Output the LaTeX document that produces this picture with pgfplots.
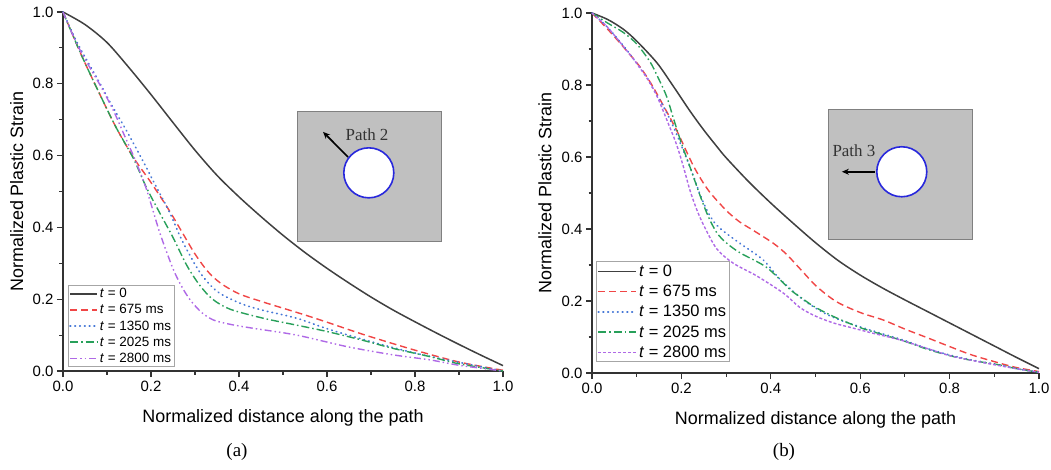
\documentclass[border=0pt]{standalone}
\usepackage{pgfplots}
\pgfplotsset{compat=1.18}
\usetikzlibrary{arrows.meta}
\usepackage{fontspec}
\setmainfont{Liberation Sans}
\newfontfamily\seriffont{Liberation Serif}
\definecolor{cblack}{RGB}{64,64,64}
\definecolor{cred}{RGB}{240,70,70}
\definecolor{cblue}{RGB}{70,120,215}
\definecolor{cgreen}{RGB}{40,160,90}
\definecolor{cpurple}{RGB}{175,105,230}
\definecolor{insetgray}{RGB}{192,192,192}
\definecolor{cblueC}{RGB}{40,40,220}
\pgfplotsset{
  panel/.style={
    scale only axis, xmin=0, xmax=1, ymin=0, ymax=1, clip=false,
    axis lines=left, axis line style={-, line width=1.3bp, black!80},
    xtick={0,0.2,0.4,0.6,0.8,1}, ytick={0,0.2,0.4,0.6,0.8,1},
    minor tick num=1, tick align=outside,
    major tick length=6bp, minor tick length=3.5bp,
    every tick/.style={line width=1.1bp, black!80},
    tick label style={font=\fontsize{15}{17}\selectfont},
    xticklabel style={yshift=-1bp},
    /pgf/number format/.cd, fixed, fixed zerofill, precision=1, assume math mode=true,
    /pgfplots/.cd,
    xlabel style={font=\fontsize{18}{20}\selectfont, at={(axis description cs:0.5,-0.131)}, anchor=center},
    ylabel style={font=\fontsize{18}{20}\selectfont, at={(axis description cs:-0.105,0.5)}, anchor=center},
    xlabel={Normalized distance along the path},
    ylabel={Normalized Plastic Strain},
  },
  sA/.style={draw=cblack, line width=1.5bp, smooth, tension=0.5},
  sB/.style={draw=cred, line width=1.4bp, dash pattern=on 7bp off 4bp, smooth, tension=0.5},
  sC/.style={draw=cblue, line width=1.7bp, line cap=round, dash pattern=on 0.6bp off 4.2bp, smooth, tension=0.5},
  sD/.style={draw=cgreen, line width=1.4bp, dash pattern=on 8bp off 3bp on 1.5bp off 3bp, smooth, tension=0.5},
  sE/.style={draw=cpurple, line width=1.4bp, dash pattern=on 7bp off 3bp on 1.5bp off 3bp on 1.5bp off 3bp, smooth, tension=0.5},
  sEb/.style={draw=cpurple, line width=1.4bp, dash pattern=on 3bp off 2bp, smooth, tension=0.5},
}
\begin{document}
\begin{tikzpicture}
% ---------------- panel (a)
\begin{axis}[panel, at={(63bp,99bp)}, anchor=south west, width=440bp, height=359bp,
  legend style={at={(rel axis cs:0.011,0.011)}, anchor=south west, draw=gray!70, line width=0.8bp,
    font=\fontsize{13.5}{14}\selectfont, inner sep=1bp, row sep=1.2bp, cells={anchor=west}},
  legend image code/.code={\draw[#1] (0bp,0bp) -- (27bp,0bp);}]
\addplot[sA] coordinates {(0,1) (0.05,0.965) (0.1,0.915) (0.15,0.845) (0.2,0.77) (0.25,0.692) (0.3,0.615) (0.35,0.545) (0.4,0.485) (0.45,0.43) (0.5,0.378) (0.55,0.33) (0.6,0.286) (0.65,0.245) (0.7,0.206) (0.75,0.17) (0.8,0.137) (0.85,0.105) (0.9,0.074) (0.95,0.044) (1.0,0.015)};
\addlegendentry{\textit{t} = 0}
\addplot[sB] coordinates {(0,1) (0.04,0.885) (0.08,0.78) (0.12,0.68) (0.16,0.595) (0.2,0.525) (0.24,0.45) (0.27,0.388) (0.3,0.326) (0.33,0.276) (0.36,0.243) (0.4,0.215) (0.45,0.194) (0.5,0.175) (0.55,0.156) (0.6,0.136) (0.65,0.115) (0.7,0.095) (0.8,0.058) (0.9,0.025) (1.0,0.002)};
\addlegendentry{\textit{t} = 675 ms}
\addplot[sC] coordinates {(0,1) (0.03,0.92) (0.054,0.866) (0.08,0.81) (0.11,0.742) (0.145,0.668) (0.183,0.582) (0.209,0.52) (0.243,0.44) (0.27,0.365) (0.311,0.275) (0.35,0.222) (0.4,0.19) (0.448,0.171) (0.531,0.147) (0.607,0.115) (0.72,0.075) (0.8,0.05) (0.872,0.031) (0.95,0.012) (1.0,0)};
\addlegendentry{\textit{t} = 1350 ms}
\addplot[sD] coordinates {(0,1) (0.04,0.885) (0.08,0.78) (0.12,0.68) (0.16,0.592) (0.19,0.51) (0.22,0.44) (0.25,0.372) (0.281,0.295) (0.31,0.24) (0.34,0.2) (0.38,0.172) (0.455,0.147) (0.53,0.128) (0.6,0.11) (0.68,0.086) (0.75,0.063) (0.834,0.04) (0.9,0.02) (1.0,0)};
\addlegendentry{\textit{t} = 2025 ms}
\addplot[sE] coordinates {(0,1) (0.03,0.915) (0.055,0.858) (0.084,0.797) (0.114,0.727) (0.14,0.655) (0.165,0.585) (0.19,0.505) (0.22,0.385) (0.25,0.285) (0.27,0.235) (0.289,0.198) (0.315,0.163) (0.342,0.142) (0.38,0.13) (0.432,0.119) (0.531,0.1) (0.645,0.068) (0.75,0.045) (0.834,0.031) (0.9,0.016) (1.0,0)};
\addlegendentry{\textit{t} = 2800 ms}
\draw[draw=gray, line width=0.8bp, fill=insetgray] (axis cs:0.532,0.362) rectangle (axis cs:0.859,0.724);
\draw[-{Stealth[length=7bp,width=6bp]}, line width=1.6bp, black] (axis cs:0.648,0.596) -- (axis cs:0.591,0.666);
\draw[cblueC, line width=1.6bp, fill=white] (axis cs:0.695,0.552) circle[radius=25bp];
\node[font=\seriffont\fontsize{17}{18}\selectfont, text=black!80] at (axis cs:0.691,0.657) {Path 2};
\end{axis}
% ---------------- panel (b)
\begin{axis}[panel, at={(592bp,97bp)}, anchor=south west, width=447bp, height=360bp,
  legend style={at={(rel axis cs:0.009,0.03)}, anchor=south west, draw=gray!70, line width=0.8bp,
    font=\fontsize{16.5}{17}\selectfont, inner sep=1bp, row sep=3.3bp, cells={anchor=west}},
  legend image code/.code={\draw[#1] (0bp,0bp) -- (38bp,0bp);}]
\addplot[sA] coordinates {(0,1) (0.035,0.982) (0.07,0.955) (0.1,0.922) (0.145,0.862) (0.18,0.8) (0.219,0.728) (0.25,0.675) (0.28,0.628) (0.3,0.598) (0.35,0.532) (0.4,0.472) (0.45,0.416) (0.5,0.362) (0.55,0.313) (0.6,0.272) (0.65,0.236) (0.7,0.203) (0.75,0.171) (0.8,0.139) (0.85,0.107) (0.9,0.075) (0.95,0.043) (1.0,0.012)};
\addlegendentry{\textit{t} = 0}
\addplot[sB] coordinates {(0,1) (0.035,0.955) (0.07,0.906) (0.107,0.851) (0.134,0.8) (0.16,0.742) (0.189,0.675) (0.227,0.575) (0.26,0.508) (0.3,0.452) (0.33,0.42) (0.361,0.396) (0.406,0.36) (0.435,0.33) (0.465,0.29) (0.503,0.24) (0.547,0.198) (0.6,0.168) (0.652,0.147) (0.7,0.122) (0.75,0.098) (0.801,0.073) (0.85,0.05) (0.913,0.027) (0.95,0.015) (1.0,0.004)};
\addlegendentry{\textit{t} = 675 ms}
\addplot[sC] coordinates {(0,1) (0.035,0.96) (0.078,0.897) (0.1,0.86) (0.122,0.823) (0.14,0.782) (0.16,0.74) (0.182,0.684) (0.204,0.619) (0.223,0.56) (0.242,0.495) (0.258,0.45) (0.275,0.416) (0.294,0.394) (0.331,0.36) (0.383,0.314) (0.421,0.26) (0.473,0.203) (0.517,0.168) (0.555,0.147) (0.6,0.128) (0.652,0.108) (0.7,0.09) (0.75,0.068) (0.8,0.05) (0.85,0.036) (0.913,0.022) (0.95,0.012) (1.0,0.002)};
\addlegendentry{\textit{t} = 1350 ms}
\addplot[sD] coordinates {(0,1) (0.035,0.972) (0.07,0.946) (0.1,0.914) (0.13,0.864) (0.148,0.82) (0.167,0.768) (0.182,0.708) (0.2,0.638) (0.219,0.573) (0.242,0.492) (0.26,0.435) (0.279,0.39) (0.3,0.362) (0.331,0.334) (0.391,0.293) (0.443,0.232) (0.465,0.212) (0.495,0.186) (0.54,0.157) (0.6,0.126) (0.652,0.106) (0.7,0.088) (0.75,0.066) (0.801,0.048) (0.85,0.035) (0.913,0.022) (0.95,0.012) (1.0,0.002)};
\addlegendentry{\textit{t} = 2025 ms}
\addplot[sEb] coordinates {(0,1) (0.035,0.96) (0.078,0.895) (0.1,0.86) (0.125,0.815) (0.145,0.77) (0.17,0.695) (0.189,0.635) (0.204,0.575) (0.219,0.508) (0.234,0.455) (0.25,0.41) (0.279,0.345) (0.316,0.305) (0.368,0.27) (0.428,0.222) (0.465,0.182) (0.5,0.158) (0.54,0.139) (0.577,0.127) (0.63,0.11) (0.689,0.092) (0.75,0.068) (0.801,0.048) (0.85,0.035) (0.913,0.02) (0.95,0.012) (1.0,0.002)};
\addlegendentry{\textit{t} = 2800 ms}
\draw[draw=gray, line width=0.8bp, fill=insetgray] (axis cs:0.528,0.372) rectangle (axis cs:0.852,0.733);
\draw[-{Stealth[length=7bp,width=6bp]}, line width=1.6bp, black] (axis cs:0.633,0.559) -- (axis cs:0.559,0.559);
\draw[cblueC, line width=1.6bp, fill=white] (axis cs:0.693,0.559) circle[radius=25bp];
\node[font=\seriffont\fontsize{17}{18}\selectfont, text=black!80] at (axis cs:0.586,0.6175) {Path 3};
\end{axis}
\node[font=\seriffont\fontsize{19}{20}\selectfont] at (237bp,18bp) {(a)};
\node[font=\seriffont\fontsize{19}{20}\selectfont] at (784bp,18bp) {(b)};
\pgfresetboundingbox
\useasboundingbox (0,0) rectangle (1051bp,470bp);
\end{tikzpicture}
\end{document}
